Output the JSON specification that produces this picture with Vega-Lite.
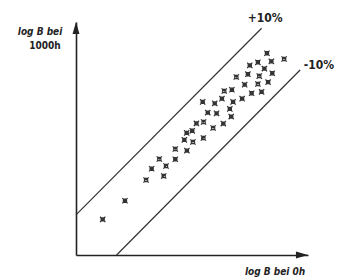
{
  "$schema": "https://vega.github.io/schema/vega-lite/v6.json",
  "width": 232,
  "height": 233,
  "autosize": "none",
  "padding": {"left": 76, "top": 22, "right": 37, "bottom": 24},
  "background": "white",
  "config": {"view": {"stroke": null}},
  "datasets": {
    "points": [
      {"b0": 1.15, "b1000": 1.53}, {"b0": 2.11, "b1000": 2.33}, {"b0": 3.02, "b1000": 3.22},
      {"b0": 3.26, "b1000": 3.70}, {"b0": 3.59, "b1000": 4.12}, {"b0": 3.88, "b1000": 3.82},
      {"b0": 3.78, "b1000": 3.39}, {"b0": 4.28, "b1000": 4.11}, {"b0": 4.28, "b1000": 4.55},
      {"b0": 4.78, "b1000": 4.48}, {"b0": 4.67, "b1000": 4.94}, {"b0": 5.04, "b1000": 4.85},
      {"b0": 4.77, "b1000": 5.24}, {"b0": 5.01, "b1000": 5.33}, {"b0": 5.49, "b1000": 5.02},
      {"b0": 5.19, "b1000": 5.65}, {"b0": 5.50, "b1000": 5.71}, {"b0": 5.91, "b1000": 5.45},
      {"b0": 6.35, "b1000": 5.64}, {"b0": 6.69, "b1000": 5.94}, {"b0": 5.68, "b1000": 6.11},
      {"b0": 6.06, "b1000": 6.08}, {"b0": 6.63, "b1000": 6.27}, {"b0": 5.46, "b1000": 6.57},
      {"b0": 5.98, "b1000": 6.51}, {"b0": 6.29, "b1000": 6.71}, {"b0": 6.77, "b1000": 6.57},
      {"b0": 7.16, "b1000": 6.71}, {"b0": 6.39, "b1000": 7.04}, {"b0": 6.72, "b1000": 7.09},
      {"b0": 7.57, "b1000": 6.94}, {"b0": 8.00, "b1000": 7.00}, {"b0": 7.27, "b1000": 7.31},
      {"b0": 7.84, "b1000": 7.34}, {"b0": 8.28, "b1000": 7.42}, {"b0": 6.91, "b1000": 7.64},
      {"b0": 7.41, "b1000": 7.76}, {"b0": 7.90, "b1000": 7.68}, {"b0": 8.46, "b1000": 7.80},
      {"b0": 7.49, "b1000": 8.14}, {"b0": 7.84, "b1000": 8.27}, {"b0": 8.12, "b1000": 8.00},
      {"b0": 8.42, "b1000": 8.31}, {"b0": 8.23, "b1000": 8.66}, {"b0": 8.97, "b1000": 8.41}
    ],
    "bands": [
      {"band": "upper", "b0": 0, "b1000": 1.72},
      {"band": "upper", "b0": 8.0, "b1000": 9.73},
      {"band": "lower", "b0": 1.75, "b1000": 0},
      {"band": "lower", "b0": 9.66, "b1000": 7.94}
    ],
    "labels": [
      {"text": "+10%", "b0": 8.15, "b1000": 10.17},
      {"text": "-10%", "b0": 10.47, "b1000": 8.15}
    ],
    "italicTitles": [
      {"text": "log B bei", "b0": -1.55, "b1000": 9.57},
      {"text": "log B bei 0h", "b0": 8.58, "b1000": -0.73}
    ],
    "plainTitles": [
      {"text": "1000h", "b0": -1.34, "b1000": 8.97}
    ],
    "arrowUp": [
      {"b0": -0.15, "b1000": 9.48, "base": 9.48},
      {"b0": 0, "b1000": 10, "base": 9.48},
      {"b0": 0.15, "b1000": 9.48, "base": 9.48}
    ],
    "arrowRight": [
      {"b1000": -0.15, "b0": 9.48, "base": 9.48},
      {"b1000": 0, "b0": 10, "base": 9.48},
      {"b1000": 0.15, "b0": 9.48, "base": 9.48}
    ]
  },
  "encoding": {
    "x": {"field": "b0", "type": "quantitative", "scale": {"domain": [0, 10], "nice": false, "zero": false},
          "axis": {"domain": true, "domainColor": "#222", "domainWidth": 1.6, "ticks": false, "labels": false, "grid": false, "title": null}},
    "y": {"field": "b1000", "type": "quantitative", "scale": {"domain": [0, 10], "nice": false, "zero": false},
          "axis": {"domain": true, "domainColor": "#222", "domainWidth": 1.6, "ticks": false, "labels": false, "grid": false, "title": null}}
  },
  "layer": [
    {
      "data": {"name": "bands"},
      "mark": {"type": "line", "color": "#333", "strokeWidth": 1.2, "clip": false},
      "encoding": {"detail": {"field": "band"}}
    },
    {
      "data": {"name": "points"},
      "mark": {"type": "point", "shape": "M-1,-1L1,1M1,-1L-1,1M-0.6,-0.6L0.6,-0.6L0.6,0.6L-0.6,0.6Z", "size": 28, "filled": false, "color": "#333", "strokeWidth": 1.2, "opacity": 1}
    },
    {
      "data": {"name": "arrowUp"},
      "mark": {"type": "area", "color": "#222", "opacity": 1, "clip": false, "orient": "vertical"},
      "encoding": {"y2": {"field": "base"}}
    },
    {
      "data": {"name": "arrowRight"},
      "mark": {"type": "area", "color": "#222", "opacity": 1, "clip": false, "orient": "horizontal"},
      "encoding": {"x2": {"field": "base"}}
    },
    {
      "data": {"name": "labels"},
      "mark": {"type": "text", "font": "Liberation Sans Narrow, DejaVu Sans Condensed, sans-serif", "fontWeight": "bold", "fontSize": 12, "color": "#222", "align": "center", "baseline": "middle"},
      "encoding": {"text": {"field": "text"}}
    },
    {
      "data": {"name": "italicTitles"},
      "mark": {"type": "text", "font": "Liberation Sans Narrow, DejaVu Sans Condensed, sans-serif", "fontWeight": "bold", "fontStyle": "italic", "fontSize": 10, "color": "#222", "align": "center", "baseline": "middle"},
      "encoding": {"text": {"field": "text"}}
    },
    {
      "data": {"name": "plainTitles"},
      "mark": {"type": "text", "font": "Liberation Sans Narrow, DejaVu Sans Condensed, sans-serif", "fontWeight": "bold", "fontSize": 10, "color": "#222", "align": "center", "baseline": "middle"},
      "encoding": {"text": {"field": "text"}}
    }
  ]
}
